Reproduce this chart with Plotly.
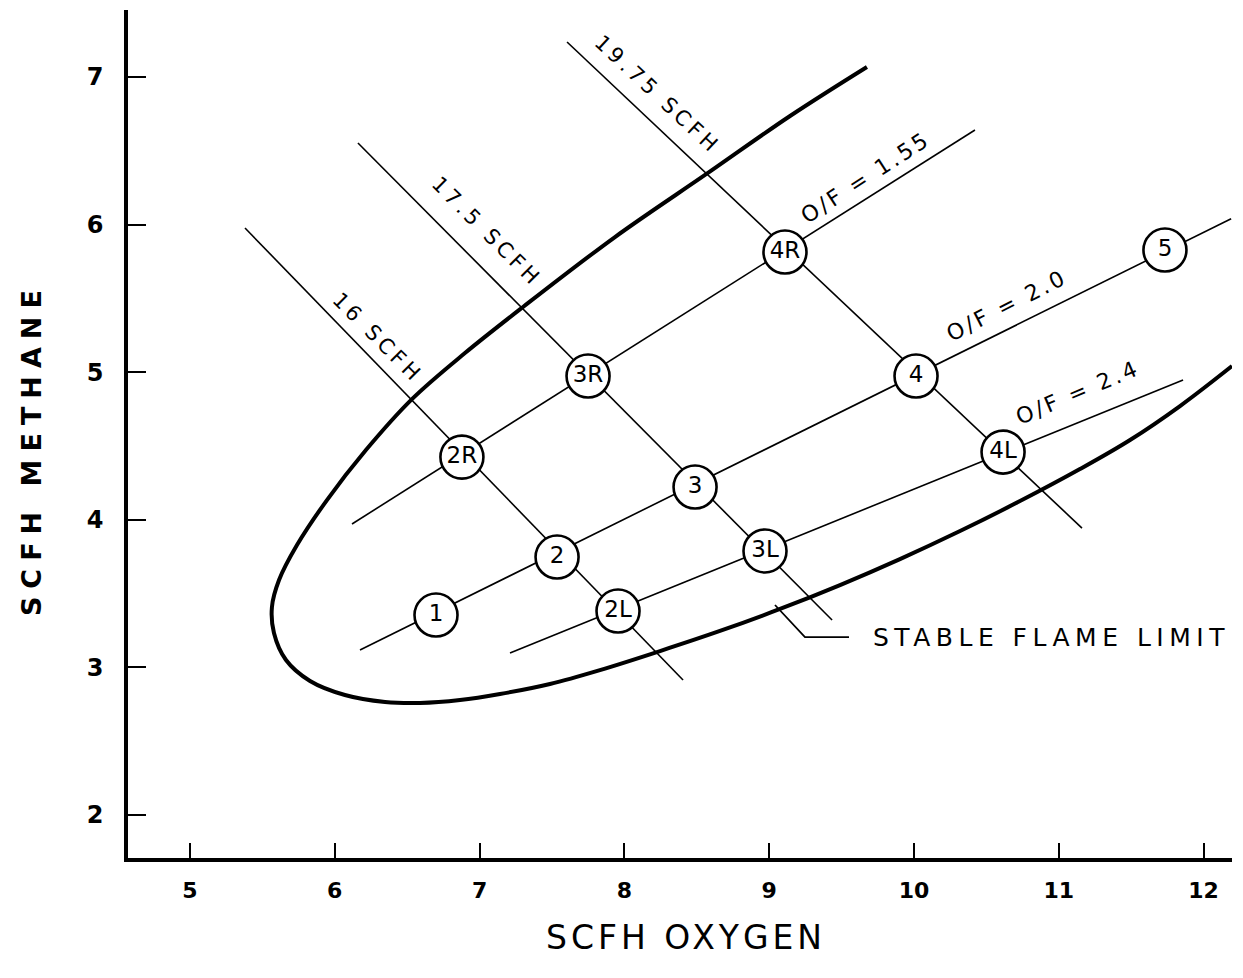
import plotly.graph_objects as go

# ---------------- data (SCFH oxygen, SCFH methane) ----------------
# stable flame limit boundary
limit_x = [9.675, 9.144, 8.577, 7.935, 7.300, 6.899, 6.533, 6.215, 5.946, 5.739, 5.615, 5.566,
           5.580, 5.663, 5.829, 6.070, 6.347, 6.588, 6.865, 7.141, 7.486, 7.831, 8.246, 8.660,
           9.075, 9.489, 9.903, 10.318, 10.732, 11.146, 11.492, 11.837, 12.196]
limit_y = [7.068, 6.736, 6.350, 5.916, 5.442, 5.130, 4.818, 4.473, 4.134, 3.829, 3.592, 3.409,
           3.233, 3.050, 2.908, 2.813, 2.766, 2.759, 2.779, 2.820, 2.888, 2.982, 3.111, 3.247,
           3.396, 3.558, 3.734, 3.924, 4.127, 4.344, 4.541, 4.771, 5.042]

# constant total-flow lines
scfh_labels = ["16 SCFH", "17.5 SCFH", "19.75 SCFH"]
scfh_x = [[5.380, 8.405], [6.160, 9.434], [7.604, 11.160]]
scfh_y = [[5.977, 2.915], [6.553, 3.321], [7.237, 3.944]]

# constant O/F lines
of_labels = ["O/F = 1.55", "O/F = 2.0", "O/F = 2.4"]
of_x = [[6.119, 10.421], [6.174, 12.19], [7.210, 11.858]]
of_y = [[3.972, 6.641], [3.118, 6.04], [3.098, 4.947]]

# test points
pt_names = ["1", "2", "2L", "2R", "3", "3L", "3R", "4", "4L", "4R", "5"]
pt_x = [6.699, 7.535, 7.956, 6.878, 8.488, 8.971, 7.749, 10.014, 10.615, 9.109, 11.733]
pt_y = [3.355, 3.748, 3.382, 4.425, 4.222, 3.789, 4.974, 4.974, 4.459, 5.814, 5.828]

# leader for the "STABLE FLAME LIMIT" callout
leader_x = [9.040, 9.247, 9.551]
leader_y = [3.423, 3.206, 3.206]
limit_label = "STABLE FLAME LIMIT"

x_ticks = [5, 6, 7, 8, 9, 10, 11, 12]
y_ticks = [2, 3, 4, 5, 6, 7]
x_title = "SCFH OXYGEN"
y_title = "SCFH METHANE"

# ---------------- label placement (style) ----------------
scfh_lab_pos = [(6.298, 5.232, 45), (7.051, 5.950, 45), (8.232, 6.878, 43)]
of_lab_pos = [(9.665, 6.320, -33), (10.640, 5.450, -27), (11.130, 4.860, -23)]

FONT = "DejaVu Sans"
INK = "black"

fig = go.Figure()

for xs, ys in zip(scfh_x, scfh_y):
    fig.add_trace(go.Scatter(x=xs, y=ys, mode="lines",
                             line=dict(color=INK, width=1.6), hoverinfo="skip", showlegend=False))
for xs, ys in zip(of_x, of_y):
    fig.add_trace(go.Scatter(x=xs, y=ys, mode="lines",
                             line=dict(color=INK, width=1.6), hoverinfo="skip", showlegend=False))

fig.add_trace(go.Scatter(x=limit_x, y=limit_y, mode="lines",
                         line=dict(color=INK, width=4, shape="spline", smoothing=1.0),
                         hoverinfo="skip", showlegend=False))

fig.add_trace(go.Scatter(x=leader_x, y=leader_y, mode="lines",
                         line=dict(color=INK, width=1.8), hoverinfo="skip", showlegend=False))

fig.add_trace(go.Scatter(x=pt_x, y=pt_y, mode="markers+text", text=pt_names,
                         textposition="middle center",
                         textfont=dict(family=FONT, size=23, color=INK),
                         marker=dict(symbol="circle", size=43, color="white",
                                     line=dict(color=INK, width=2.6)),
                         showlegend=False))

anns = []
for lab, (ax, ay, ang) in zip(scfh_labels, scfh_lab_pos):
    anns.append(dict(x=ax, y=ay, xref="x", yref="y", showarrow=False, textangle=ang,
                     text='<span style="letter-spacing:4px">%s</span>' % lab,
                     font=dict(family=FONT, size=21, color=INK)))
for lab, (ax, ay, ang) in zip(of_labels, of_lab_pos):
    anns.append(dict(x=ax, y=ay, xref="x", yref="y", showarrow=False, textangle=ang,
                     text='<span style="letter-spacing:3px">%s</span>' % lab,
                     font=dict(family=FONT, size=22, color=INK)))
anns.append(dict(x=leader_x[-1] + 0.155, y=leader_y[-1], xref="x", yref="y", showarrow=False,
                 xanchor="left", yanchor="middle",
                 text='<span style="letter-spacing:5.5px">%s</span>' % limit_label,
                 font=dict(family=FONT, size=25, color=INK)))
anns.append(dict(x=0.505, y=-0.094, xref="paper", yref="paper", showarrow=False,
                 xanchor="center", yanchor="middle",
                 text='<span style="letter-spacing:4px">%s</span>' % x_title,
                 font=dict(family=FONT, size=33, color=INK)))
anns.append(dict(x=-0.0880, y=0.482, xref="paper", yref="paper", showarrow=False,
                 xanchor="center", yanchor="middle", textangle=-90,
                 text='<span style="letter-spacing:8px">%s</span>' % y_title,
                 font=dict(family=FONT, size=27, color=INK, weight="bold")))

fig.update_layout(
    width=1243, height=978,
    margin=dict(l=128, r=11, t=10, b=120),
    paper_bgcolor="white", plot_bgcolor="white",
    annotations=anns,
    xaxis=dict(range=[4.572, 12.196], tickvals=x_ticks, ticktext=[str(v) for v in x_ticks],
               showgrid=False, zeroline=False, showline=True, linecolor=INK, linewidth=3.5,
               ticks="inside", ticklen=15, tickwidth=2, tickcolor=INK,
               ticklabelstandoff=10,
               tickfont=dict(family=FONT, size=22, color=INK, weight="bold")),
    yaxis=dict(range=[1.709, 7.454], tickvals=y_ticks, ticktext=[str(v) for v in y_ticks],
               showgrid=False, zeroline=False, showline=True, linecolor=INK, linewidth=3.5,
               ticks="inside", ticklen=18, tickwidth=2, tickcolor=INK,
               ticklabelstandoff=16,
               tickfont=dict(family=FONT, size=24, color=INK, weight="bold")),
)

fig.write_html("out.html")
